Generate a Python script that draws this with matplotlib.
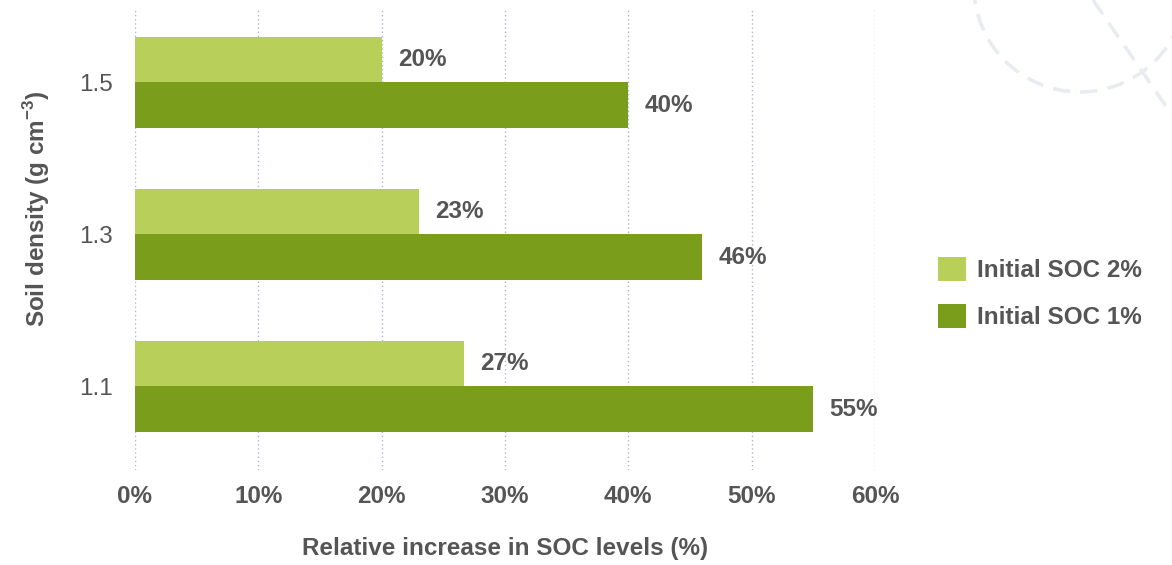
import numpy as np
import matplotlib.pyplot as plt
from matplotlib.patches import Circle
from matplotlib.lines import Line2D

plt.rcParams['font.family'] = ['Liberation Sans', 'DejaVu Sans']

# data
densities = ['1.1', '1.3', '1.5']
soc_2pct = [26.7, 23, 20]
soc_1pct = [55, 46, 40]
series_names = ['Initial SOC 2%', 'Initial SOC 1%']
xticks = [0, 10, 20, 30, 40, 50, 60]

light_green = '#b8d05a'
dark_green = '#7a9e1c'
txt = '#555555'
fs = 17.5

fig = plt.figure(figsize=(11.72, 5.65), dpi=100)
ax = fig.add_axes([135 / 1172, 1 - 470 / 565, 740 / 1172, 462 / 565])

# faint dashed decoration top-right (inches from bottom-left)
deco = dict(transform=fig.dpi_scale_trans, lw=2.5, ls=(0, (5, 3)), zorder=0)
fig.patches.append(Circle((10.80, 5.79), 1.06, fill=False, ec='#e8ebf0', **deco))
fig.lines.append(Line2D([10.93, 11.72], [5.65, 4.50], color='#e8ebf0', **deco))

y = np.arange(len(densities))
h = 0.30
b1 = ax.barh(y + h / 2, soc_2pct, height=h, color=light_green, label=series_names[0], zorder=2)
b2 = ax.barh(y - h / 2, soc_1pct, height=h, color=dark_green, label=series_names[1], zorder=2)

for bars, vals in [(b1, soc_2pct), (b2, soc_1pct)]:
    for bar, v in zip(bars, vals):
        ax.text(v + 1.3, bar.get_y() + bar.get_height() / 2, f'{round(v)}%', va='center', ha='left',
                fontsize=fs, fontweight='bold', color=txt)

ax.set_xlim(0, 60)
ax.set_ylim(-0.55, 2.49)
ax.set_xticks(xticks)
ax.set_xticklabels([f'{t}%' for t in xticks], fontsize=fs, fontweight='bold', color=txt)
ax.set_yticks(y)
ax.set_yticklabels(densities, fontsize=fs, color=txt)
ax.tick_params(axis='x', length=0, pad=11)
ax.tick_params(axis='y', length=0, pad=16)
for s in ax.spines.values():
    s.set_visible(False)
ax.grid(axis='x', color='#a8b8cf', ls=(0, (1, 2)), lw=1, zorder=0)
ax.set_axisbelow(True)

ax.set_xlabel('Relative increase in SOC levels (%)', fontsize=fs, fontweight='bold', color=txt, labelpad=21)
ax.set_ylabel('Soil density (g cm$^{\\mathregular{-3}}$)', fontsize=fs, fontweight='bold', color=txt)
ax.yaxis.set_label_coords(-0.112, 0.565)

leg = fig.legend(handles=[b1, b2], loc='center left', bbox_to_anchor=(926 / 1172, 1 - 293 / 565),
                 frameon=False, prop={'size': fs, 'weight': 'bold'}, handlelength=1.15, handleheight=1.15,
                 handletextpad=0.45, labelspacing=0.9, borderpad=0)
for t in leg.get_texts():
    t.set_color(txt)

fig.savefig('out.png', dpi=100)
